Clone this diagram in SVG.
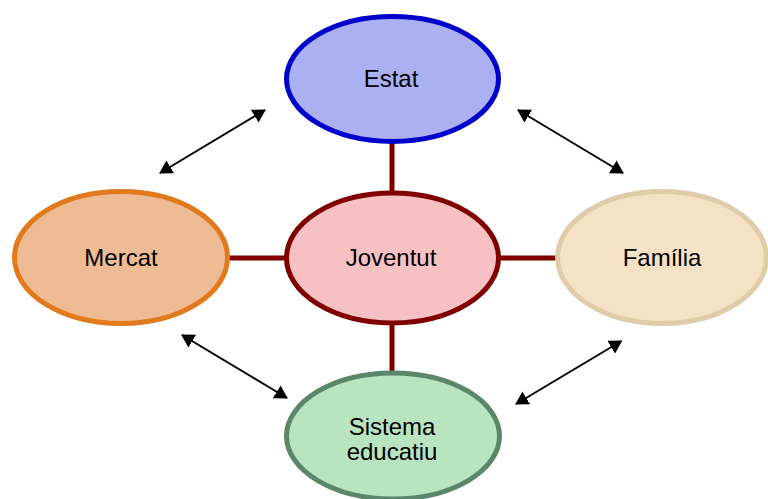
<svg xmlns="http://www.w3.org/2000/svg" width="768" height="499" viewBox="0 0 768 499">
<defs>
<marker id="ah" viewBox="0 0 13 15" refX="12" refY="7.5" markerWidth="13" markerHeight="15" orient="auto-start-reverse" markerUnits="userSpaceOnUse">
<path d="M0,0 L13,7.5 L0,15 z" fill="#000"/>
</marker>
<style>
text{font-family:"Liberation Sans",Arial,sans-serif;font-size:24px;fill:#000;text-anchor:middle}
.n{stroke-width:5}
.link{stroke:#800000;stroke-width:5;fill:none}
.arr{stroke:#000;stroke-width:2;fill:none;marker-start:url(#ah);marker-end:url(#ah)}
</style>
</defs>
<g id="connectors">
<line class="link" x1="392" y1="143" x2="392" y2="193"/>
<line class="link" x1="392" y1="322" x2="392" y2="373"/>
<line class="link" x1="228" y1="258" x2="288" y2="258"/>
<line class="link" x1="497" y1="258" x2="557" y2="258"/>
<line class="arr" x1="160" y1="173" x2="265" y2="110"/>
<line class="arr" x1="518" y1="110" x2="623" y2="173"/>
<line class="arr" x1="182" y1="335" x2="287" y2="398"/>
<line class="arr" x1="516" y1="404" x2="621.5" y2="341"/>
</g>
<g id="estat">
<ellipse class="n" cx="392.5" cy="79" rx="106" ry="62.5" fill="#aab0f0" stroke="#0000cc"/>
<text x="391" y="87">Estat</text>
</g>
<g id="joventut">
<ellipse class="n" cx="392.5" cy="258" rx="106" ry="65" fill="#f7c0c2" stroke="#800000"/>
<text x="391" y="266">Joventut</text>
</g>
<g id="mercat">
<ellipse class="n" cx="121" cy="257.5" rx="106.5" ry="66" fill="#efbb94" stroke="#e07a1c"/>
<text x="121" y="266">Mercat</text>
</g>
<g id="familia">
<ellipse class="n" cx="662" cy="257.5" rx="104.5" ry="66" fill="#f5e2c4" stroke="#dfcca8"/>
<text x="662" y="266">Família</text>
</g>
<g id="sistema">
<ellipse class="n" cx="393" cy="436" rx="106.5" ry="63" fill="#b8e4c0" stroke="#5b866a"/>
<text x="392" y="435">Sistema</text>
<text x="392" y="460">educatiu</text>
</g>
</svg>
